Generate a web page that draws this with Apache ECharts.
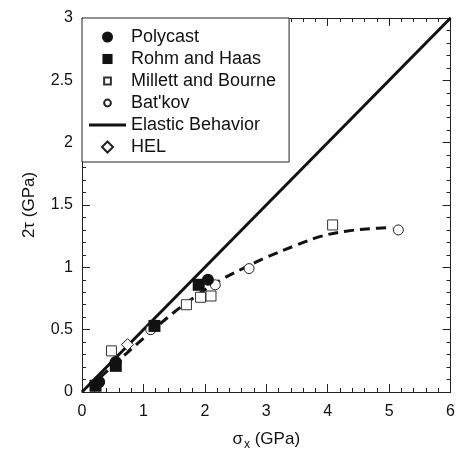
<!DOCTYPE html>
<html><head><meta charset="utf-8">
<script src="https://cdn.jsdelivr.net/npm/echarts@6/dist/echarts.min.js"></script>
<style>html,body{margin:0;padding:0;background:#fff}#c{width:458px;height:456px}</style>
</head><body><div id="c"></div>
<script>
const polycastX = [0.28, 0.55, 2.05];
const polycastY = [0.08, 0.24, 0.90];
const rohmX = [0.22, 0.55, 1.18, 1.90];
const rohmY = [0.05, 0.21, 0.53, 0.86];
const millettX = [0.48, 1.70, 1.93, 2.10, 4.08];
const millettY = [0.33, 0.70, 0.76, 0.77, 1.34];
const batkovX = [1.12, 2.17, 2.72, 5.15];
const batkovY = [0.50, 0.86, 0.99, 1.30];
const helX = [0.74];
const helY = [0.38];
const elasticX = [0, 6];
const elasticY = [0, 3];
const fitX = [0.3, 0.5, 1.0, 1.5, 1.8, 2.0, 2.3, 2.7, 3.0, 3.5, 3.9, 4.3, 4.7, 5.05];
const fitY = [0.12, 0.21, 0.43, 0.64, 0.75, 0.82, 0.91, 1.01, 1.08, 1.18, 1.25, 1.29, 1.31, 1.32];
const xTicks = [0, 1, 2, 3, 4, 5, 6];
const yTicks = [0, 0.5, 1, 1.5, 2, 2.5, 3];

const zip = (a, b) => a.map((v, i) => [v, b[i]]);
const font = 'Liberation Sans, Arial, sans-serif';
const chart = echarts.init(document.getElementById('c'));
const axisBase = {
  axisLine: {show: true, onZero: false, lineStyle: {color: '#222', width: 1}},
  splitLine: {show: false},
};
chart.setOption({
  animation: false,
  backgroundColor: '#fff',
  grid: {left: 82, right: 3, top: 18, bottom: 60},
  legend: {
    orient: 'vertical', left: 82, top: 18,
    padding: [10, 13, 6, 7],
    itemWidth: 37, itemHeight: 11, itemGap: 4,
    symbolKeepAspect: true,
    borderColor: '#222', borderWidth: 1, backgroundColor: '#fff',
    textStyle: {fontFamily: font, fontSize: 18, color: '#111'},
    data: [
      {name: 'Polycast', icon: 'circle'},
      {name: 'Rohm and Haas', icon: 'path://M0,0M12,12M0.5,0.5h11v11h-11z'},
      {name: 'Millett and Bourne', icon: 'path://M0,0M13,13M2.5,2.5h8v8h-8z'},
      {name: "Bat'kov", icon: 'path://M0,0M13,13M10.5,6.5A4,4,0,1,1,2.5,6.5A4,4,0,1,1,10.5,6.5z'},
      {name: 'Elastic Behavior', icon: 'path://M0,0h37v3h-37z'},
      {name: 'HEL', icon: 'path://M6,0L12,6L6,12L0,6z'}
    ]
  },
  xAxis: [
    Object.assign({}, axisBase, {
      type: 'value', min: xTicks[0], max: xTicks[xTicks.length - 1], interval: 1,
      axisTick: {show: true, inside: true, length: 8, lineStyle: {color: '#222'}},
      minorTick: {show: true, splitNumber: 5, length: 4, lineStyle: {color: '#222'}},
      axisLabel: {fontFamily: font, fontSize: 16, color: '#111', margin: 12},
      name: '{a|σ}{s|x}{a| (GPa)}', nameLocation: 'middle', nameGap: 35,
      nameTextStyle: {rich: {
        a: {fontFamily: font, fontSize: 17, color: '#111'},
        s: {fontFamily: font, fontSize: 12, color: '#111', padding: [12, 0, 0, 1]}
      }}
    }),
    Object.assign({}, axisBase, {
      type: 'value', position: 'top', min: 0, max: 6, interval: 1,
      axisTick: {show: true, inside: true, length: 8, lineStyle: {color: '#222'}},
      minorTick: {show: true, splitNumber: 5, length: 4, lineStyle: {color: '#222'}},
      axisLabel: {show: false}
    })
  ],
  yAxis: [
    Object.assign({}, axisBase, {
      type: 'value', min: yTicks[0], max: yTicks[yTicks.length - 1], interval: 0.5,
      axisTick: {show: true, inside: true, length: 8, lineStyle: {color: '#222'}},
      minorTick: {show: true, splitNumber: 5, length: 4, lineStyle: {color: '#222'}},
      axisLabel: {fontFamily: font, fontSize: 16, color: '#111', margin: 9},
      name: '2τ (GPa)', nameLocation: 'middle', nameGap: 44, nameRotate: 90,
      nameTextStyle: {fontFamily: font, fontSize: 17, color: '#111'}
    }),
    Object.assign({}, axisBase, {
      type: 'value', position: 'right', min: 0, max: 3, interval: 0.5,
      axisTick: {show: true, inside: true, length: 8, lineStyle: {color: '#222'}},
      minorTick: {show: true, splitNumber: 5, length: 4, lineStyle: {color: '#222'}},
      axisLabel: {show: false}
    })
  ],
  series: [
    {name: 'Elastic Behavior', type: 'line', data: zip(elasticX, elasticY), symbol: 'none',
      lineStyle: {color: '#111', width: 3}, itemStyle: {color: '#111'}, z: 2},
    {name: 'fit', type: 'line', data: zip(fitX, fitY), symbol: 'none', smooth: 0.4,
      lineStyle: {color: '#111', width: 3, type: [10, 6]}, z: 2},
    {name: 'Millett and Bourne', type: 'scatter', data: zip(millettX, millettY), symbol: 'rect', symbolSize: 10,
      itemStyle: {color: '#fff', borderColor: '#333', borderWidth: 1, opacity: 1}, z: 3},
    {name: "Bat'kov", type: 'scatter', data: zip(batkovX, batkovY), symbol: 'circle', symbolSize: 10,
      itemStyle: {color: '#fff', borderColor: '#222', borderWidth: 1, opacity: 1}, z: 3},
    {name: 'HEL', type: 'scatter', data: zip(helX, helY), symbol: 'diamond', symbolSize: 12,
      itemStyle: {color: '#fff', borderColor: '#222', borderWidth: 1, opacity: 1}, z: 3},
    {name: 'Rohm and Haas', type: 'scatter', data: zip(rohmX, rohmY), symbol: 'rect', symbolSize: 12,
      itemStyle: {color: '#111', opacity: 1}, z: 4},
    {name: 'Polycast', type: 'scatter', data: zip(polycastX, polycastY), symbol: 'circle', symbolSize: 12,
      itemStyle: {color: '#111', opacity: 1}, z: 4}
  ]
});
</script></body></html>
